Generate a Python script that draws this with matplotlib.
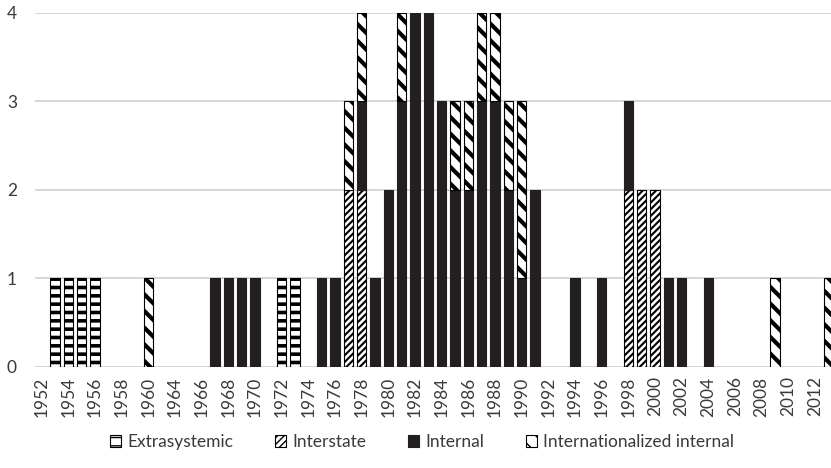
import numpy as np
import matplotlib
import matplotlib.pyplot as plt
from matplotlib.patches import Patch

matplotlib.use("Agg")

# category labels (one hidden slot between 1960 and 1964)
years = [str(y) for y in range(1952, 1961)] + ["1962"] + [str(y) for y in range(1964, 2014)]

# counts per year
extrasystemic = {"1953": 1, "1954": 1, "1955": 1, "1956": 1, "1972": 1, "1973": 1}
interstate = {"1977": 2, "1978": 2, "1998": 2, "1999": 2, "2000": 2}
internal = {
    "1967": 1, "1968": 1, "1969": 1, "1970": 1, "1975": 1, "1976": 1,
    "1978": 1, "1979": 1, "1980": 2, "1981": 3, "1982": 4, "1983": 4,
    "1984": 3, "1985": 2, "1986": 2, "1987": 3, "1988": 3, "1989": 2,
    "1990": 1, "1991": 2, "1994": 1, "1996": 1, "1998": 1, "2001": 1,
    "2002": 1, "2004": 1,
}
internationalized = {
    "1960": 1, "1977": 1, "1978": 1, "1981": 1, "1985": 1, "1986": 1,
    "1987": 1, "1988": 1, "1989": 1, "1990": 2, "2009": 1, "2013": 1,
}

series_names = ["Extrasystemic", "Interstate", "Internal", "Internationalized internal"]
series_data = [extrasystemic, interstate, internal, internationalized]

# (facecolor, edgecolor, hatch, hatch linewidth)
styles = [
    ("white", "black", "--", 2.6),
    ("white", "black", "/////", 1.5),
    ("#231f20", "#231f20", None, 1.0),
    ("white", "black", "\\\\", 3.0),
]

plt.rcParams["font.family"] = ["Lato", "DejaVu Sans"]
TXT = "#3a3a3a"


def hatched(p, hlw):
    # hatch width is per artist in mpl 3.10
    if hasattr(p, "set_hatch_linewidth"):
        p.set_hatch_linewidth(hlw)


fig = plt.figure(figsize=(8.31, 4.68), dpi=100)
ax = fig.add_axes([35 / 831, 0.2165, 800 / 831, 0.7564])

x = np.arange(len(years))
bottom = np.zeros(len(years))
handles = []
for name, data, (fc, ec, hatch, hlw) in zip(series_names, series_data, styles):
    vals = np.array([data.get(y, 0) for y in years], dtype=float)
    with plt.rc_context({"hatch.linewidth": hlw}):
        bars = ax.bar(x, vals, 0.68, bottom=bottom, color=fc, edgecolor=ec,
                      hatch=hatch, linewidth=0.8, zorder=3)
        for b in bars:
            hatched(b, hlw)
            if b.get_height() == 0:
                b.set_visible(False)
        h = Patch(facecolor=fc, edgecolor=ec, hatch=hatch, linewidth=0.8, label=name)
        hatched(h, hlw)
    handles.append(h)
    bottom += vals

ax.set_xlim(-0.5, len(years) - 0.5)
ax.set_ylim(0, 4)
ax.set_yticks([0, 1, 2, 3, 4])
ax.yaxis.grid(True, color="#d0d0d0", linewidth=1.2, zorder=0)
ax.set_axisbelow(True)
for s in ax.spines.values():
    s.set_visible(False)

ax.set_xticks(x[::2])
ax.set_xticklabels(years[::2], rotation=90)
ax.tick_params(axis="x", length=0, pad=7, labelsize=12.5, labelcolor=TXT)
ax.tick_params(axis="y", length=0, pad=13, labelsize=12.5, labelcolor=TXT)

leg = fig.legend(handles=handles, labels=series_names, loc="center",
                 bbox_to_anchor=(0.508, 1 - 442 / 468), ncol=4, frameon=False,
                 fontsize=12.5, handlelength=0.65, handleheight=0.65,
                 handletextpad=0.35, columnspacing=2.4)
for t in leg.get_texts():
    t.set_color(TXT)

fig.savefig("out.png", dpi=100)
